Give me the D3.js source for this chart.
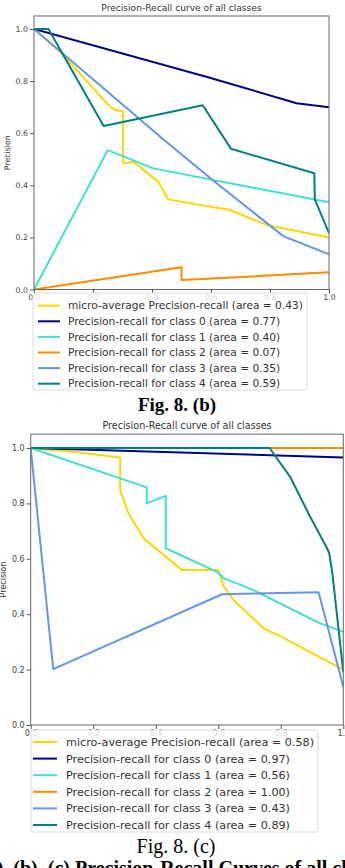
<!DOCTYPE html>
<html>
<head>
<meta charset="utf-8">
<script src="https://cdn.jsdelivr.net/npm/d3@7"></script>
<style>
  body { margin: 0; background: #fff; }
  svg { display: block; }
  text { font-family: "DejaVu Sans", sans-serif; }
  .fig { font-family: "Liberation Serif", "Times New Roman", serif; }
</style>
</head>
<body>
<div id="chart"></div>
<script>
// legend labels and tick values
const seriesNames = [
  "micro-average Precision-recall",
  "Precision-recall for class 0",
  "Precision-recall for class 1",
  "Precision-recall for class 2",
  "Precision-recall for class 3",
  "Precision-recall for class 4"
];
const palette = ["gold", "navy", "turquoise", "darkorange", "cornflowerblue", "teal"];
const tickValues = [0, 0.2, 0.4, 0.6, 0.8, 1.0];

// Fig. 8 (b) - [recall, precision]
const areasB = [0.43, 0.77, 0.40, 0.07, 0.35, 0.59];
const bMicro = [[0, 1], [0.094, 0.907], [0.252, 0.708], [0.27, 0.692], [0.289, 0.685], [0.302, 0.685],
  [0.302, 0.484], [0.337, 0.49], [0.421, 0.414], [0.455, 0.346], [0.664, 0.305], [0.789, 0.248], [1, 0.2]];
const bClass0 = [[0, 1], [0.59, 0.815], [0.89, 0.715], [1, 0.70]];
const bClass1 = [[0, 0], [0.25, 0.535], [0.404, 0.465], [1, 0.335]];
const bClass2 = [[0, 0], [0.5, 0.085], [0.5, 0.036], [1, 0.066]];
const bClass3 = [[0, 1], [0.44, 0.575], [0.6, 0.425], [0.845, 0.205], [1, 0.135]];
const bClass4 = [[0, 1], [0.049, 1], [0.236, 0.628], [0.572, 0.707], [0.668, 0.54], [0.95, 0.446],
  [0.952, 0.346], [1, 0.216]];

// Fig. 8 (c)
const areasC = [0.58, 0.97, 0.56, 1.00, 0.43, 0.89];
const cMicro = [[0, 1], [0.15, 0.985], [0.286, 0.966], [0.286, 0.848], [0.313, 0.764], [0.361, 0.674],
  [0.483, 0.56], [0.6, 0.56], [0.617, 0.5], [0.654, 0.445], [0.745, 0.349], [0.79, 0.325], [1, 0.2]];
const cClass0 = [[0, 1], [1, 0.966]];
const cClass1 = [[0, 1], [0.371, 0.858], [0.371, 0.80], [0.432, 0.827], [0.432, 0.638], [0.596, 0.553],
  [0.617, 0.53], [0.713, 0.487], [0.926, 0.367], [1, 0.337]];
const cClass2 = [[0, 1], [1, 1]];
const cClass3 = [[0, 1], [0.072, 0.202], [0.612, 0.472], [0.921, 0.479], [1, 0.138]];
const cClass4 = [[0, 1], [0.764, 1], [0.83, 0.896], [0.894, 0.752], [0.948, 0.638], [0.955, 0.62],
  [0.965, 0.548], [1, 0.19]];

const svg = d3.select("#chart").append("svg")
  .attr("width", 345)
  .attr("height", 868);

const drawPanel = (cfg) => {
  const x = d3.scaleLinear().domain([0, 1]).range([cfg.left, cfg.right]);
  const y = d3.scaleLinear().domain([0, 1.05]).range([cfg.bottom, cfg.bottom - 1.05 * cfg.unit]);
  const top = y(1.05);

  // title
  svg.append("text")
    .attr("x", (cfg.left + cfg.right) / 2)
    .attr("y", cfg.titleY)
    .attr("text-anchor", "middle")
    .attr("font-size", cfg.titleSize)
    .attr("fill", "#333")
    .text("Precision-Recall curve of all classes");

  // y label
  svg.append("text")
    .attr("transform", `translate(${cfg.ylabelX},${(top + cfg.bottom) / 2}) rotate(-90)`)
    .attr("text-anchor", "middle")
    .attr("font-size", cfg.tickSize)
    .attr("fill", "#333")
    .text("Precision");

  // axes
  const yAxis = svg.append("g")
    .attr("transform", `translate(${cfg.left},0)`)
    .call(d3.axisLeft(y).tickValues(tickValues).tickFormat(d3.format(".1f")).tickSize(4).tickPadding(2));
  const xAxis = svg.append("g")
    .attr("transform", `translate(0,${cfg.bottom})`)
    .call(d3.axisBottom(x).tickValues(tickValues).tickFormat(d3.format(".1f")).tickSize(4).tickPadding(1));
  [yAxis, xAxis].forEach((g) => {
    g.select(".domain").remove();
    g.selectAll("line").attr("stroke", "#555");
    g.selectAll("text").attr("font-size", cfg.tickSize).attr("fill", "#444")
      .attr("font-family", "DejaVu Sans");
  });

  // clip + lines
  svg.append("clipPath").attr("id", cfg.id + "-clip")
    .append("rect")
    .attr("x", cfg.left).attr("y", top)
    .attr("width", cfg.right - cfg.left).attr("height", cfg.bottom - top);

  const line = d3.line().x((d) => x(d[0])).y((d) => y(d[1]));
  svg.append("g")
    .attr("clip-path", `url(#${cfg.id}-clip)`)
    .selectAll("path")
    .data(cfg.series)
    .join("path")
    .attr("fill", "none")
    .attr("stroke", (d, i) => palette[i])
    .attr("stroke-width", 2)
    .attr("stroke-linejoin", "round")
    .attr("d", line);

  // frame
  svg.append("rect")
    .attr("x", cfg.left).attr("y", top)
    .attr("width", cfg.right - cfg.left).attr("height", cfg.bottom - top)
    .attr("fill", "none")
    .attr("stroke", "#666")
    .attr("stroke-width", 1);

  // legend (semi-transparent, sits over the x tick labels like the original)
  const lg = cfg.legend;
  svg.append("rect")
    .attr("x", lg.x0).attr("y", lg.y0)
    .attr("width", lg.x1 - lg.x0).attr("height", lg.y1 - lg.y0)
    .attr("rx", 2)
    .attr("fill", "#fff").attr("fill-opacity", 0.8)
    .attr("stroke", "#ddd");
  const rows = svg.append("g").selectAll("g")
    .data(seriesNames)
    .join("g")
    .attr("transform", (d, i) => `translate(0,${lg.rowY + i * lg.rowStep})`);
  rows.append("line")
    .attr("x1", lg.hx0).attr("x2", lg.hx1)
    .attr("stroke", (d, i) => palette[i])
    .attr("stroke-width", 2);
  rows.append("text")
    .attr("x", lg.tx)
    .attr("dy", "0.35em")
    .attr("font-size", lg.size)
    .attr("fill", "#333")
    .text((d, i) => `${d} (area = ${cfg.areas[i].toFixed(2)})`);
};

drawPanel({
  id: "b", left: 34, right: 329, bottom: 289.5, unit: 260.5,
  titleY: 11, titleSize: 9.1, tickSize: 7.8, ylabelX: 10,
  series: [bMicro, bClass0, bClass1, bClass2, bClass3, bClass4],
  areas: areasB,
  legend: { x0: 33, x1: 307, y0: 293, y1: 390, rowY: 305.7, rowStep: 15.6, hx0: 38, hx1: 60, tx: 68, size: 10.6 }
});

svg.append("text")
  .attr("class", "fig")
  .attr("x", 177).attr("y", 411)
  .attr("text-anchor", "middle")
  .attr("font-size", 19)
  .attr("font-weight", "bold")
  .text("Fig. 8. (b)");

drawPanel({
  id: "c", left: 30.7, right: 343.3, bottom: 725, unit: 277,
  titleY: 429, titleSize: 9.6, tickSize: 8, ylabelX: 6,
  series: [cMicro, cClass0, cClass1, cClass2, cClass3, cClass4],
  areas: areasC,
  legend: { x0: 31, x1: 318, y0: 730, y1: 832, rowY: 742, rowStep: 16.6, hx0: 33, hx1: 57, tx: 66, size: 11.2 }
});

svg.append("text")
  .attr("class", "fig")
  .attr("x", 176).attr("y", 853)
  .attr("text-anchor", "middle")
  .attr("font-size", 20)
  .text("Fig. 8. (c)");

svg.append("text")
  .attr("class", "fig")
  .attr("x", -20).attr("y", 875)
  .attr("font-size", 20)
  .attr("font-weight", "bold")
  .text("(a), (b), (c) Precision-Recall Curves of all classes");
</script>
</body>
</html>
